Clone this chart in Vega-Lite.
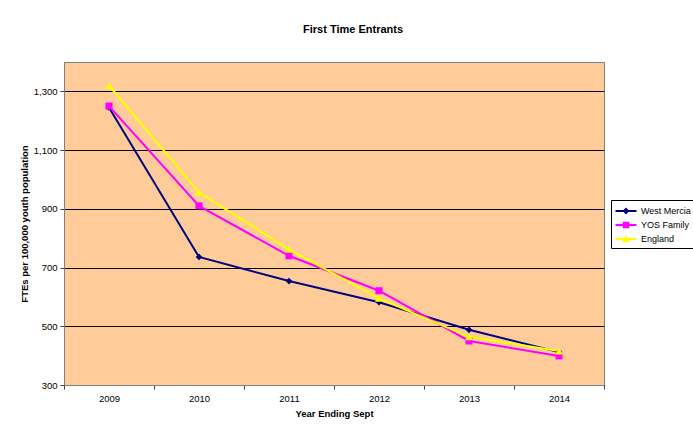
{
  "$schema": "https://vega.github.io/schema/vega-lite/v6.json",
  "width": 540,
  "height": 323,
  "autosize": "none",
  "padding": {"left": 64, "top": 62, "right": 89, "bottom": 39},
  "background": "white",
  "config": {
    "font": "Liberation Sans",
    "view": {"fill": "#FFCC99", "stroke": "#808080", "strokeWidth": 1}
  },
  "title": {
    "text": "First Time Entrants",
    "fontSize": 11,
    "fontWeight": "bold",
    "font": "Liberation Sans",
    "color": "black",
    "offset": 27,
    "dx": 19
  },
  "data": {
    "values": [
      {"year": "2009", "series": "West Mercia", "value": 1245},
      {"year": "2010", "series": "West Mercia", "value": 736},
      {"year": "2011", "series": "West Mercia", "value": 654},
      {"year": "2012", "series": "West Mercia", "value": 582},
      {"year": "2013", "series": "West Mercia", "value": 488},
      {"year": "2014", "series": "West Mercia", "value": 412},
      {"year": "2009", "series": "YOS Family", "value": 1250},
      {"year": "2010", "series": "YOS Family", "value": 910},
      {"year": "2011", "series": "YOS Family", "value": 740},
      {"year": "2012", "series": "YOS Family", "value": 621},
      {"year": "2013", "series": "YOS Family", "value": 450},
      {"year": "2014", "series": "YOS Family", "value": 399},
      {"year": "2009", "series": "England", "value": 1320},
      {"year": "2010", "series": "England", "value": 956},
      {"year": "2011", "series": "England", "value": 762},
      {"year": "2012", "series": "England", "value": 595},
      {"year": "2013", "series": "England", "value": 464},
      {"year": "2014", "series": "England", "value": 416}
    ]
  },
  "encoding": {
    "x": {
      "field": "year",
      "type": "ordinal",
      "bandPosition": 0.5,
      "scale": {"type": "band", "paddingInner": 0, "paddingOuter": 0},
      "axis": {
        "title": "Year Ending Sept",
        "titleFont": "Liberation Sans",
        "titleFontSize": 9.5,
        "titleFontWeight": "bold",
        "titleColor": "black",
        "titlePadding": 6,
        "labelFont": "Liberation Sans",
        "labelFontSize": 9.5,
        "labelColor": "black",
        "labelPadding": 4,
        "labelAngle": 0,
        "tickBand": "extent",
        "tickSize": 4,
        "tickColor": "#404040",
        "domainColor": "#808080",
        "grid": false
      }
    },
    "y": {
      "field": "value",
      "type": "quantitative",
      "scale": {"domain": [300, 1400], "nice": false, "zero": false},
      "axis": {
        "title": "FTEs per 100,000 youth population",
        "titleFont": "Liberation Sans",
        "titleFontSize": 9.5,
        "titleFontWeight": "bold",
        "titleColor": "black",
        "titlePadding": 4,
        "labelFont": "Liberation Sans",
        "labelFontSize": 9.5,
        "labelColor": "black",
        "labelPadding": 3,
        "values": [300, 500, 700, 900, 1100, 1300],
        "format": ",d",
        "tickSize": 4,
        "tickColor": "#404040",
        "domainColor": "#808080",
        "grid": true,
        "gridColor": "black",
        "gridOpacity": 1,
        "gridWidth": 1
      }
    }
  },
  "layer": [
    {
      "mark": {"type": "line", "strokeWidth": 2},
      "encoding": {
        "color": {
          "field": "series",
          "type": "nominal",
          "sort": ["West Mercia", "YOS Family", "England"],
          "scale": {"domain": ["West Mercia", "YOS Family", "England"], "range": ["#000080", "#FF00FF", "#FFFF00"]},
          "legend": {
            "title": null,
            "orient": "none",
            "legendX": 547,
            "legendY": 138,
            "padding": 4,
            "strokeColor": "black",
            "fillColor": "white",
            "labelFont": "Liberation Sans",
            "labelFontSize": 9,
            "labelColor": "black",
            "labelOffset": 8,
            "symbolOffset": 4,
            "symbolSize": 196,
            "symbolStrokeWidth": 0,
            "rowPadding": 2,
            "encode": {
              "symbols": {
                "update": {
                  "shape": {"signal": "datum.value === 'West Mercia' ? 'M-1.5,-0.14H1.5V0.14H-1.5ZM-0.5,0L0,-0.5L0.5,0L0,0.5Z' : (datum.value === 'YOS Family' ? 'M-1.5,-0.14H1.5V0.14H-1.5ZM-0.47,-0.47H0.47V0.47H-0.47Z' : 'M-1.5,-0.14H1.5V0.14H-1.5ZM-0.57,0.47L0,-0.57L0.57,0.47Z')"},
                  "size": {"value": 196},
                  "fill": {"signal": "scale('color', datum.value)"},
                  "strokeWidth": {"value": 0},
                  "opacity": {"value": 1}
                }
              }
            }
          }
        }
      }
    },
    {
      "transform": [{"filter": "datum.series === 'West Mercia'"}],
      "mark": {"type": "point", "filled": true, "opacity": 1, "strokeWidth": 0, "shape": "diamond", "size": 45, "color": "#000080"}
    },
    {
      "transform": [{"filter": "datum.series === 'YOS Family'"}],
      "mark": {"type": "point", "filled": true, "opacity": 1, "strokeWidth": 0, "shape": "square", "size": 50, "color": "#FF00FF"}
    },
    {
      "transform": [{"filter": "datum.series === 'England'"}],
      "mark": {"type": "point", "filled": true, "opacity": 1, "strokeWidth": 0, "shape": "triangle-up", "size": 65, "color": "#FFFF00"}
    }
  ]
}
